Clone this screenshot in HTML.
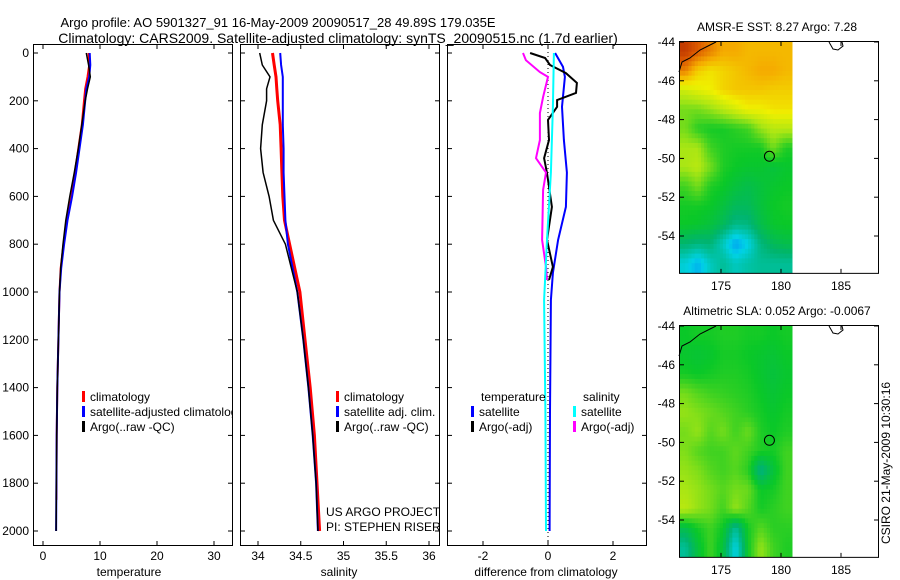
<!DOCTYPE html>
<html><head><meta charset="utf-8"><style>
html,body{margin:0;padding:0;background:#fff;}
svg{display:block;font-family:"Liberation Sans",sans-serif;}
text{font-size:12px;fill:#000;}
text.ttl{font-size:14px;}
text.ttl1{font-size:13px;}
</style></head><body>
<svg id="fig" width="900" height="580" xmlns="http://www.w3.org/2000/svg"></svg>
<script>
// ---------- data ----------
const depthT = [0,50,100,150,200,300,400,500,600,700,800,900,1000,1200,1400,1600,1800,2000];
const tempClim = [8.0,8.1,7.8,7.4,7.2,6.8,6.2,5.6,5.0,4.2,3.6,3.1,2.9,2.7,2.5,2.4,2.35,2.3];
const tempSat  = [8.2,8.3,8.1,7.6,7.4,7.0,6.4,5.8,5.1,4.3,3.7,3.2,2.9,2.7,2.5,2.4,2.35,2.3];
const tempArgo = [7.6,8.0,8.3,7.8,7.4,6.8,6.2,5.5,4.7,4.0,3.5,3.1,2.9,2.7,2.5,2.4,2.35,2.3];
const depthS = [0,50,100,150,200,300,400,500,600,700,800,1000,1200,1400,1600,1800,2000];
const salClim = [34.17,34.19,34.21,34.22,34.23,34.26,34.27,34.28,34.29,34.31,34.37,34.49,34.55,34.61,34.66,34.69,34.72];
const salSat  = [34.26,34.27,34.29,34.29,34.29,34.29,34.30,34.30,34.31,34.32,34.35,34.46,34.53,34.59,34.64,34.68,34.70];
const salArgo = [34.02,34.05,34.14,34.10,34.10,34.05,34.03,34.06,34.13,34.18,34.32,34.46,34.53,34.59,34.64,34.68,34.70];
const dBlueD = [0,58,100,225,364,500,644,782,920,1033,1500,2000];
const dBlue  = [0.22,0.46,0.52,0.43,0.49,0.58,0.55,0.31,0.15,0.09,0.06,0.05];
const dBlackD = [0,21,50,84,125,167,197,225,280,364,440,502,644,782,895,950];
const dBlack  = [-0.55,-0.09,0.06,0.55,0.89,0.86,0.28,0.28,0,0.03,-0.12,-0.03,0.12,-0.03,0.15,0.03];
const dMagD = [0,30,80,100,184,251,364,440,500,573,782,895,950];
const dMag  = [-0.77,-0.68,-0.25,0,-0.15,-0.25,-0.25,-0.37,-0.06,-0.15,-0.18,-0.06,-0.03];
const dCyanD = [0,225,500,782,1033,1500,2000];
const dCyan  = [0.18,0.15,0.09,-0.03,-0.12,-0.08,-0.06];
const depthTicks = [0,200,400,600,800,1000,1200,1400,1600,1800,2000];
const sstGrid = [
[0.95,0.9,0.85,0.8,0.8,0.78,0.78,0.78,0.78],
[0.85,0.75,0.72,0.74,0.76,0.78,0.8,0.8,0.78],
[0.65,0.68,0.7,0.74,0.76,0.76,0.76,0.75,0.75],
[0.55,0.55,0.58,0.62,0.66,0.7,0.7,0.72,0.72],
[0.55,0.48,0.46,0.46,0.48,0.5,0.58,0.62,0.62],
[0.6,0.6,0.5,0.47,0.46,0.46,0.46,0.55,0.47],
[0.6,0.62,0.55,0.47,0.45,0.44,0.44,0.42,0.44],
[0.5,0.55,0.47,0.45,0.42,0.40,0.42,0.44,0.45],
[0.46,0.46,0.45,0.42,0.38,0.38,0.42,0.45,0.46],
[0.45,0.44,0.42,0.38,0.32,0.33,0.4,0.44,0.45],
[0.35,0.33,0.34,0.25,0.12,0.2,0.33,0.38,0.4],
[0.22,0.15,0.25,0.3,0.25,0.28,0.3,0.3,0.3]];
const slaGrid = [
[0.45,0.46,0.46,0.47,0.47,0.46,0.46,0.45,0.46],
[0.44,0.43,0.44,0.46,0.46,0.45,0.44,0.43,0.45],
[0.46,0.45,0.46,0.47,0.47,0.46,0.44,0.42,0.44],
[0.55,0.52,0.5,0.49,0.48,0.47,0.45,0.43,0.45],
[0.58,0.56,0.54,0.52,0.5,0.48,0.46,0.44,0.46],
[0.55,0.58,0.52,0.55,0.5,0.54,0.47,0.45,0.47],
[0.56,0.52,0.5,0.5,0.53,0.5,0.47,0.46,0.5],
[0.58,0.56,0.52,0.5,0.52,0.48,0.32,0.42,0.5],
[0.6,0.58,0.55,0.52,0.55,0.54,0.45,0.46,0.5],
[0.62,0.58,0.55,0.5,0.58,0.52,0.46,0.48,0.5],
[0.4,0.46,0.5,0.45,0.3,0.46,0.52,0.48,0.48],
[0.3,0.42,0.5,0.42,0.2,0.45,0.58,0.5,0.47]];

// ---------- helpers ----------
const NS="http://www.w3.org/2000/svg";
const svg=document.getElementById('fig');
function mk(tag,attrs,parent){const e=document.createElementNS(NS,tag);for(const k in attrs)e.setAttribute(k,attrs[k]);(parent||svg).appendChild(e);return e;}
function txt(x,y,s,anchor,parent){const t=mk('text',{x:x,y:y,'text-anchor':anchor||'start'},parent);t.textContent=s;return t;}
const yD=d=>53+d*0.239;
const TOP=44,BOT=545;
function panel(x0,x1,name){
  const g=mk('g',{});
  
  
  const r=mk('rect',{x:x0+0.5,y:TOP+0.5,width:x1-x0,height:BOT-TOP,fill:'none',stroke:'#000'},g);
  
  
  depthTicks.forEach(d=>{const y=yD(d);mk('line',{x1:x0,x2:x0+5,y1:y,y2:y,stroke:'#000'},g);mk('line',{x1:x1-4,x2:x1+1,y1:y,y2:y,stroke:'#000'},g);});
  return g;
}
function xticks(g,vals,labels,sx){vals.forEach((v,i)=>{const x=sx(v);mk('line',{x1:x,x2:x,y1:TOP,y2:TOP+5,stroke:'#000'},g);mk('line',{x1:x,x2:x,y1:BOT-4,y2:BOT+1,stroke:'#000'},g);const t=txt(x,560,labels[i],'middle',g);});}
function line(g,xs,ds,sx,color,w,name){const pts=xs.map((v,i)=>sx(v).toFixed(1)+','+yD(ds[i]).toFixed(1)).join(' ');const p=mk('polyline',{points:pts,fill:'none',stroke:color,'stroke-width':w},g);return p;}
function legendEntry(g,x,y,color,label,name){const e=mk('g',{},g);mk('rect',{x:x,y:y-6,width:3,height:11,fill:color},e);txt(x+8,y+4,label,'start',e);}

// titles
let t=txt(278,27,'Argo profile: AO 5901327_91 16-May-2009 20090517_28 49.89S 179.035E','middle');
t.setAttribute('class','ttl1');

t=txt(338,43,'Climatology: CARS2009. Satellite-adjusted climatology: synTS_20090515.nc (1.7d earlier)','middle');
t.setAttribute('class','ttl');


// y labels
depthTicks.forEach(d=>{const l=txt(29,yD(d)+4,String(d),'end');});

const defs=mk('defs',{});
const cp=mk('clipPath',{id:'c1'},defs);mk('rect',{x:33,y:44,width:199,height:501},cp);

// panel 1 temperature
const sT=v=>43+v*5.7;
const g1=panel(33,232,'temperature-panel');
xticks(g1,[0,10,20,30],['0','10','20','30'],sT);
line(g1,tempClim.slice(0,17),depthT.slice(0,16).concat([1870]),sT,'#f00',2,'temperature-climatology-line');
line(g1,tempSat,depthT,sT,'#00f',2,'temperature-satellite-line');
line(g1,tempArgo,depthT,sT,'#000',1.5,'temperature-argo-line');
t=txt(129,576,'temperature','middle',g1);
const lg1=mk('g',{'clip-path':'url(#c1)'},g1);

legendEntry(lg1,82,397,'#f00','climatology','legend-climatology');
legendEntry(lg1,82,412,'#00f','satellite-adjusted climatology','legend-satellite-adjusted');
legendEntry(lg1,82,427,'#000','Argo(..raw -QC)','legend-argo');

// panel 2 salinity
const sS=v=>258+(v-34)*85.5;
const g2=panel(240,439,'salinity-panel');
xticks(g2,[34,34.5,35,35.5,36],['34','34.5','35','35.5','36'],sS);
line(g2,salClim,depthS,sS,'#f00',3,'salinity-climatology-line');
line(g2,salSat,depthS,sS,'#00f',2,'salinity-satellite-line');
line(g2,salArgo,depthS,sS,'#000',1.5,'salinity-argo-line');
t=txt(339,576,'salinity','middle',g2);
legendEntry(g2,336,397,'#f00','climatology','legend-climatology');
legendEntry(g2,336,412,'#00f','satellite adj. clim.','legend-satellite-adj');
legendEntry(g2,336,427,'#000','Argo(..raw -QC)','legend-argo');
t=txt(326,516,'US ARGO PROJECT','start',g2);
t=txt(326,531,'PI: STEPHEN RISER','start',g2);

// panel 3 difference
const sD=v=>548+v*32.5;
const g3=panel(447,646,'difference-panel');
xticks(g3,[-2,0,2],['-2','0','2'],sD);
const z=mk('line',{x1:sD(0),x2:sD(0),y1:TOP,y2:BOT,stroke:'#000','stroke-dasharray':'1,3'},g3);

line(g3,dBlue,dBlueD,sD,'#00f',2,'temp-satellite-diff-line');
line(g3,dBlack,dBlackD,sD,'#000',2,'temp-argo-diff-line');
line(g3,dMag,dMagD,sD,'#f0f',2,'sal-argo-diff-line');
line(g3,dCyan,dCyanD,sD,'#0ff',2,'sal-satellite-diff-line');
t=txt(546,576,'difference from climatology','middle',g3);
t=txt(481,401,'temperature','start',g3);
t=txt(583,401,'salinity','start',g3);
legendEntry(g3,471,412,'#00f','satellite','legend-temp-satellite');
legendEntry(g3,471,427,'#000','Argo(-adj)','legend-temp-argo');
legendEntry(g3,573,412,'#0ff','satellite','legend-sal-satellite');
legendEntry(g3,573,427,'#f0f','Argo(-adj)','legend-sal-argo');

// ---------- maps ----------
function cmap(v){
  const stops=[[0,[0,90,255]],[0.2,[0,210,230]],[0.35,[0,180,110]],[0.45,[10,200,40]],[0.6,[170,230,20]],[0.7,[240,240,0]],[0.8,[245,170,0]],[0.9,[220,90,0]],[1,[170,30,0]]];
  for(let i=1;i<stops.length;i++){if(v<=stops[i][0]){const a=stops[i-1],b=stops[i];const f=(v-a[0])/(b[0]-a[0]);const c=a[1].map((x,k)=>Math.round(x+(b[1][k]-x)*f));return 'rgb('+c.join(',')+')';}}
  return 'rgb(170,30,0)';
}
function sample(grid,r,c){
  const R=grid.length,C=grid[0].length;
  r=Math.max(0,Math.min(R-1,r));c=Math.max(0,Math.min(C-1,c));
  const r0=Math.floor(r),c0=Math.floor(c),r1=Math.min(R-1,r0+1),c1=Math.min(C-1,c0+1);
  const fr=r-r0,fc=c-c0;
  return grid[r0][c0]*(1-fr)*(1-fc)+grid[r0][c1]*(1-fr)*fc+grid[r1][c0]*fr*(1-fc)+grid[r1][c1]*fr*fc;
}
function map(top,grid,title,name){
  const g=mk('g',{});
  
  const lon=v=>679+(v-171.5)*12;
  const lat=v=>top+(-44-v)*19.4;
  const rows=grid.length,cols=grid[0].length;
  const W=792-679,H=lat(-55.9)-top;
  const up=4;
  const nR=rows*up,nC=cols*up;
  const cw=W/nC,ch=H/nR;
  for(let i=0;i<nR;i++)for(let j=0;j<nC;j++){
    const v=sample(grid,(i+0.5)/up-0.5,(j+0.5)/up-0.5);
    const c=mk('rect',{x:(679+j*cw).toFixed(2),y:(top+i*ch).toFixed(2),width:(cw+0.5).toFixed(2),height:(ch+0.5).toFixed(2),fill:cmap(v)},g);
    
  }
  const f=mk('rect',{x:679.5,y:top-0.5,width:199,height:H+1,fill:'none',stroke:'#000'},g);
  
  mk('path',{d:`M679,${top+30} L682,${top+20} L690,${top+16} L700,${top+8} L712,${top+2} L716,${top}`,fill:'none',stroke:'#000'},g);
  mk('path',{d:`M829,${top} L833,${top+7} L838,${top+8} L843,${top+4} L842,${top}`,fill:'none',stroke:'#000'},g);
  const pt=mk('circle',{cx:lon(179.035),cy:lat(-49.89),r:5,fill:'none',stroke:'#000'},g);
  
  [-44,-46,-48,-50,-52,-54].forEach(v=>{const y=lat(v);mk('line',{x1:679,x2:684,y1:y,y2:y,stroke:'#000'},g);mk('line',{x1:874,x2:879,y1:y,y2:y,stroke:'#000'},g);const l=txt(675,y+4,String(v),'end',g);});
  const by=lat(-55.9);
  [175,180,185].forEach(v=>{const x=lon(v);mk('line',{x1:x,x2:x,y1:top,y2:top+4,stroke:'#000'},g);mk('line',{x1:x,x2:x,y1:by-4,y2:by,stroke:'#000'},g);const l=txt(x,by+17,String(v),'middle',g);});
  const tt=txt(777,top-11,title,'middle',g);
}
map(42,sstGrid,'AMSR-E SST: 8.27 Argo: 7.28','sst-map');
map(326,slaGrid,'Altimetric SLA: 0.052 Argo: -0.0067','sla-map');

t=txt(0,0,'CSIRO 21-May-2009 10:30:16','middle');
t.setAttribute('transform','translate(890,463) rotate(-90)');

</script>
</body></html>
